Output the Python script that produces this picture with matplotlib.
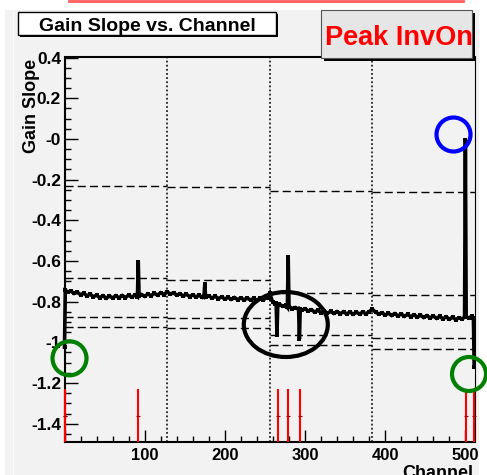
import matplotlib
matplotlib.use('Agg')
import matplotlib.pyplot as plt
from matplotlib.patches import Rectangle, Ellipse
from matplotlib.lines import Line2D
from matplotlib.transforms import Affine2D
import numpy as np

# ---------------- data ----------------
channels = [0, 1, 4, 8, 12, 16, 20, 24, 28, 32, 36, 40, 44, 48, 52, 56, 60, 64, 68, 72, 76, 80,
            84, 88, 91, 92, 93, 96, 100, 104, 108, 112, 116, 120, 124,
            128, 132, 136, 140, 144, 148, 152, 156, 160, 164, 168, 172, 174, 175, 176, 180, 184,
            188, 192, 196, 200, 204, 208, 212, 216, 220, 224, 228, 232, 236, 240, 244, 248, 252,
            256, 258, 260, 262, 264, 265, 266, 268, 272, 276, 278, 279, 280, 284, 288, 292, 293,
            294, 296, 300, 304, 308, 312, 316, 320, 324, 328, 332, 336, 340, 344, 348, 352, 356,
            360, 364, 368, 372, 376, 380,
            384, 388, 392, 396, 400, 404, 408, 412, 416, 420, 424, 428, 432, 436, 440, 444, 448,
            452, 456, 460, 464, 468, 472, 476, 480, 484, 488, 492, 496, 499, 500, 501, 504, 508,
            510, 511]
gain_slope = [-1.024, -0.745, -0.752, -0.748, -0.760, -0.754, -0.766, -0.759, -0.771, -0.764,
              -0.776, -0.768, -0.781, -0.771, -0.783, -0.772, -0.782, -0.771, -0.781, -0.770,
              -0.780, -0.768, -0.778, -0.767, -0.776, -0.605, -0.772, -0.765, -0.774, -0.762,
              -0.771, -0.759, -0.768, -0.756, -0.765,
              -0.752, -0.763, -0.757, -0.768, -0.761, -0.772, -0.764, -0.775, -0.767, -0.777,
              -0.769, -0.779, -0.772, -0.714, -0.778, -0.772, -0.782, -0.774, -0.785, -0.777,
              -0.787, -0.779, -0.789, -0.780, -0.790, -0.782, -0.791, -0.783, -0.792, -0.784,
              -0.793, -0.784, -0.791, -0.780,
              -0.758, -0.785, -0.803, -0.810, -0.808, -0.964, -0.815, -0.812, -0.823, -0.818,
              -0.828, -0.581, -0.825, -0.834, -0.829, -0.838, -0.984, -0.836, -0.841, -0.835,
              -0.846, -0.840, -0.851, -0.843, -0.854, -0.846, -0.857, -0.848, -0.858, -0.849,
              -0.859, -0.850, -0.861, -0.851, -0.862, -0.852, -0.861, -0.851, -0.860, -0.849,
              -0.838, -0.852, -0.861, -0.855, -0.866, -0.857, -0.868, -0.859, -0.870, -0.861,
              -0.872, -0.863, -0.874, -0.865, -0.876, -0.867, -0.878, -0.869, -0.880, -0.871,
              -0.882, -0.873, -0.884, -0.875, -0.886, -0.877, -0.888, -0.879, -0.885, -0.876,
              -0.005, -0.874, -0.881, -0.872, -0.879, -1.122]

# per-section thresholds (sections bounded by section_edges)
section_edges = [0, 128, 256, 384, 512]
thr_top = [-0.232, -0.236, -0.256, -0.263]
thr_high = [-0.685, -0.693, -0.757, -0.766]
thr_low1 = [-0.877, -0.882, -0.962, -0.978]
thr_low2 = [-0.923, -0.931, -1.011, -1.033]

# flagged (bad) channels shown in red
bad_channels = [0, 1, 92, 266, 279, 294, 501, 511]
bad_top = -1.228
bad_mark = -1.361

y_ticks = [0.4, 0.2, 0.0, -0.2, -0.4, -0.6, -0.8, -1.0, -1.2, -1.4]
y_ticklabels = ['0.4', '0.2', '-0', '-0.2', '-0.4', '-0.6', '-0.8', '-1', '-1.2', '-1.4']
x_ticks = [0, 100, 200, 300, 400, 500]
x_ticklabels = ['', '100', '200', '300', '400', '500']

# ---------------- figure ----------------
W, H = 487, 475
plt.rcParams['font.family'] = ['Liberation Sans', 'DejaVu Sans']
plt.rcParams['font.weight'] = 'bold'
fig = plt.figure(figsize=(W / 100, H / 100), dpi=100, facecolor='white')
px = Affine2D().scale(1 / W, -1 / H).translate(0, 1) + fig.transFigure

BG = '#f2f2f2'
fig.add_artist(Rectangle((5, 10), 474, 466, transform=px, facecolor=BG,
                         edgecolor='none', zorder=-10))
fig.add_artist(Line2D([13, 13], [10, 476], transform=px, color='#fbfbfb', lw=0.8, zorder=-9))
fig.add_artist(Line2D([69, 463], [1, 1], transform=px, color='#ff5c5c', lw=2.0, zorder=-9))

ax = fig.add_axes([64.5 / W, 1 - 442 / H, (475 - 64.5) / W, (442 - 57.5) / H])
ax.set_facecolor(BG)
ax.set_xlim(0, 512)
ax.set_ylim(-1.49, 0.4)

# vertical dotted section separators
for e in section_edges[1:-1]:
    ax.axvline(e, color='black', lw=1.1, linestyle=(0, (1.2, 1.5)), zorder=2)

# dashed threshold lines
for i in range(len(section_edges) - 1):
    x0, x1 = section_edges[i], section_edges[i + 1]
    for arr in (thr_top, thr_high, thr_low1, thr_low2):
        ax.hlines(arr[i], x0, x1, color='black', lw=1.0, linestyle=(0, (5.8, 3.0)), zorder=2)

# red flagged channels
ax.vlines(bad_channels, -1.49, bad_top, color='#ff0000', lw=1.5, zorder=3.5, clip_on=False)
ax.plot(bad_channels, [bad_mark] * len(bad_channels), linestyle='none', marker='_',
        color='#aa0000', ms=3, mew=0.8, zorder=3.6, clip_on=False)

# data
ax.plot(channels, gain_slope, color='black', lw=2.6, marker='s', ms=2.6, mew=0,
        solid_joinstyle='miter', zorder=4, clip_on=False)

# axes style
for s in ['left', 'bottom', 'top']:
    ax.spines[s].set_linewidth(1.5)
ax.spines['right'].set_linewidth(0.8)
ax.set_yticks(y_ticks)
ax.set_yticklabels(y_ticklabels)
ax.set_yticks(np.arange(-1.45, 0.41, 0.05), minor=True)
ax.set_xticks(x_ticks)
ax.set_xticklabels(x_ticklabels)
ax.set_xticks(np.arange(0, 512, 20), minor=True)
ax.tick_params(which='major', direction='in', length=9, width=1.0, right=False, top=False)
ax.tick_params(which='minor', direction='in', length=4.5, width=1.0, right=False, top=False)
ax.tick_params(axis='y', which='major', pad=2.5, labelsize=12.5)
ax.tick_params(axis='x', which='major', pad=4.5, labelsize=12)
for lab in ax.get_xticklabels() + ax.get_yticklabels():
    lab.set_fontweight('bold')

# axis titles
fig.text(31, 59, 'Gain Slope', transform=px, rotation=90, ha='center', va='top',
         fontsize=13, fontweight='bold')
fig.text(473, 465, 'Channel', transform=px, ha='right', va='top', fontsize=13, fontweight='bold')

# title box
fig.add_artist(Rectangle((20, 14), 258, 23, transform=px, facecolor='black',
                         edgecolor='none', zorder=10))
fig.add_artist(Rectangle((18, 12), 258, 23, transform=px, facecolor='white',
                         edgecolor='black', lw=1.0, zorder=11))
fig.text(147, 30.7, 'Gain Slope vs. Channel', transform=px, ha='center', va='baseline',
         fontsize=14, fontweight='bold', zorder=12)

# Peak InvOn box
fig.add_artist(Rectangle((324, 13), 151, 48, transform=px, facecolor='black',
                         edgecolor='none', zorder=10))
fig.add_artist(Rectangle((321, 10), 151, 48, transform=px, facecolor='#e6e6e6',
                         edgecolor='#555555', lw=0.8, zorder=11))
fig.text(398.5, 45, 'Peak InvOn', transform=px, ha='center', va='baseline',
         fontsize=19.5, fontweight='bold', color='#ff0000', zorder=12)

# annotation circles
fig.add_artist(Ellipse((453.5, 134.5), 34, 34, transform=px, fill=False,
                       edgecolor='#0000ff', lw=3.0, zorder=13))
fig.add_artist(Ellipse((69.5, 358.3), 34, 34, transform=px, fill=False,
                       edgecolor='#008000', lw=3.0, zorder=13))
fig.add_artist(Ellipse((469, 374), 34, 34, transform=px, fill=False,
                       edgecolor='#008000', lw=3.0, zorder=13))
fig.add_artist(Ellipse((285.8, 324.5), 84, 65, transform=px, fill=False,
                       edgecolor='black', lw=3.0, zorder=13))

fig.savefig('out.png', dpi=100, facecolor='white')
